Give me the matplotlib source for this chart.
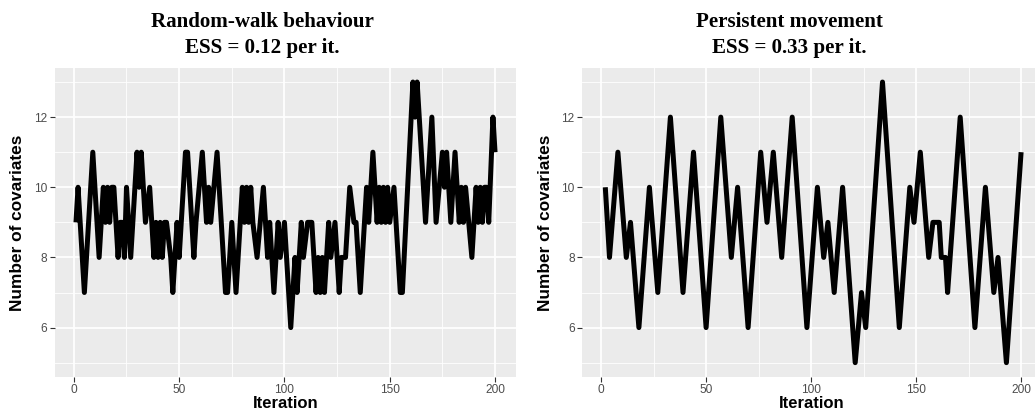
import numpy as np
import matplotlib
matplotlib.use("Agg")
import matplotlib.pyplot as plt
from matplotlib.ticker import MultipleLocator

# ================= data =================
# vertices of the two chains (iteration, number of covariates)
rw_iter = [1, 2, 5, 9, 12, 14, 15, 16, 17, 18, 19, 21, 22, 23, 24, 25, 27, 30, 31, 32,
           34, 36, 38, 39, 40, 41, 42, 43, 44, 46, 47, 49, 50, 53, 54, 57, 58, 61, 63, 64,
           65, 68, 72, 73, 75, 77, 80, 81, 82, 83, 84, 85, 87, 90, 92, 93, 95, 97, 98, 100,
           103, 105, 106, 108, 109, 111, 113, 115, 116, 117, 118, 119, 121, 122, 124, 126, 127, 129, 131, 133,
           134, 136, 139, 140, 142, 144, 145, 146, 147, 148, 149, 150, 152, 155, 156, 161, 162, 163, 167, 170,
           172, 175, 176, 177, 179, 181, 183, 184, 185, 186, 189, 191, 192, 193, 194, 195, 196, 197, 199, 200]
rw_val = [9, 10, 7, 11, 8, 10, 9, 10, 9, 10, 10, 8, 9, 9, 8, 10, 8, 11, 10, 11,
          9, 10, 8, 9, 8, 9, 8, 9, 9, 8, 7, 9, 8, 11, 11, 8, 9, 11, 9, 10,
          9, 11, 7, 7, 9, 7, 10, 9, 10, 9, 10, 9, 8, 10, 8, 9, 7, 9, 8, 9,
          6, 8, 7, 9, 8, 9, 9, 7, 8, 7, 8, 7, 9, 8, 9, 7, 8, 8, 10, 9,
          9, 7, 10, 9, 11, 9, 10, 9, 10, 9, 10, 9, 10, 7, 7, 13, 12, 13, 9, 12,
          9, 11, 10, 11, 9, 11, 9, 10, 9, 10, 8, 10, 9, 10, 9, 10, 10, 9, 12, 11]

pm_iter = [2, 4, 8, 12, 14, 18, 23, 27, 33, 39, 44, 50, 57, 62, 65, 70, 76, 79, 82, 86,
           91, 98, 103, 106, 108, 111, 115, 121, 124, 126, 134, 142, 147, 149, 152, 156, 158, 161, 162, 164,
           165, 171, 178, 183, 187, 189, 193, 200]
pm_val = [10, 8, 11, 8, 9, 6, 10, 7, 12, 7, 11, 6, 12, 8, 10, 6, 11, 9, 11, 8,
          12, 6, 10, 8, 9, 7, 10, 5, 7, 6, 13, 6, 10, 9, 11, 8, 9, 9, 8, 8,
          7, 12, 6, 10, 7, 8, 5, 11]

titles = ["Random-walk behaviour\nESS = 0.12 per it.",
          "Persistent movement\nESS = 0.33 per it."]
x_ticks = [0, 50, 100, 150, 200]
y_ticks = [6, 8, 10, 12]
# ========================================

W, H = 1035, 416
fig = plt.figure(figsize=(W / 100, H / 100), dpi=100)

# panel boxes in pixels: left, right, top, bottom ; title centre x
boxes = [(55, 516, 68, 376.7), (582.3, 1042, 68, 376.7)]
title_cx = [262, 789]
series = [(rw_iter, rw_val), (pm_iter, pm_val)]

for (l, r, t, b), (xs, ys), title, tcx in zip(boxes, series, titles, title_cx):
    ax = fig.add_axes([l / W, 1 - b / H, (r - l) / W, (b - t) / H])
    ax.set_facecolor("#EBEBEB")
    for s in ax.spines.values():
        s.set_visible(False)

    ax.plot(xs, ys, color="black", lw=3.6, solid_joinstyle="round",
            solid_capstyle="butt", zorder=3)

    ax.set_xlim(1 - 0.05 * 199, 200 + 0.05 * 199)
    ax.set_ylim(5 - 0.05 * 8, 13 + 0.05 * 8)
    ax.set_xticks(x_ticks)
    ax.set_yticks(y_ticks)
    ax.xaxis.set_minor_locator(MultipleLocator(25))
    ax.yaxis.set_minor_locator(MultipleLocator(1))
    ax.grid(True, which="major", color="white", lw=1.25)
    ax.grid(True, which="minor", color="white", lw=0.6)
    ax.set_axisbelow(True)
    ax.tick_params(which="major", length=3.3, width=0.8, color="#333333",
                   labelcolor="#4D4D4D", labelsize=8.6, pad=2.2)
    ax.tick_params(which="minor", length=0)
    for lab in ax.get_xticklabels() + ax.get_yticklabels():
        lab.set_family("Liberation Sans")

    # two title lines, placed on their baselines
    for line, base in zip(title.split("\n"), [26.7, 53.3]):
        fig.text(tcx / W, 1 - base / H, line, ha="center", va="baseline",
                 family="Liberation Serif", weight="bold", fontsize=15.1)
    fig.text((l + r) / 2 / W, 1 - 404 / H, "Iteration", ha="center", va="center",
             family="Liberation Sans", weight="bold", fontsize=12)
    fig.text((l - 37) / W, 1 - (t + b) / 2 / H, "Number of covariates",
             ha="center", va="center", rotation=90,
             family="Liberation Sans", weight="bold", fontsize=12.4)

plt.savefig("out.png", dpi=100)
plt.close()
